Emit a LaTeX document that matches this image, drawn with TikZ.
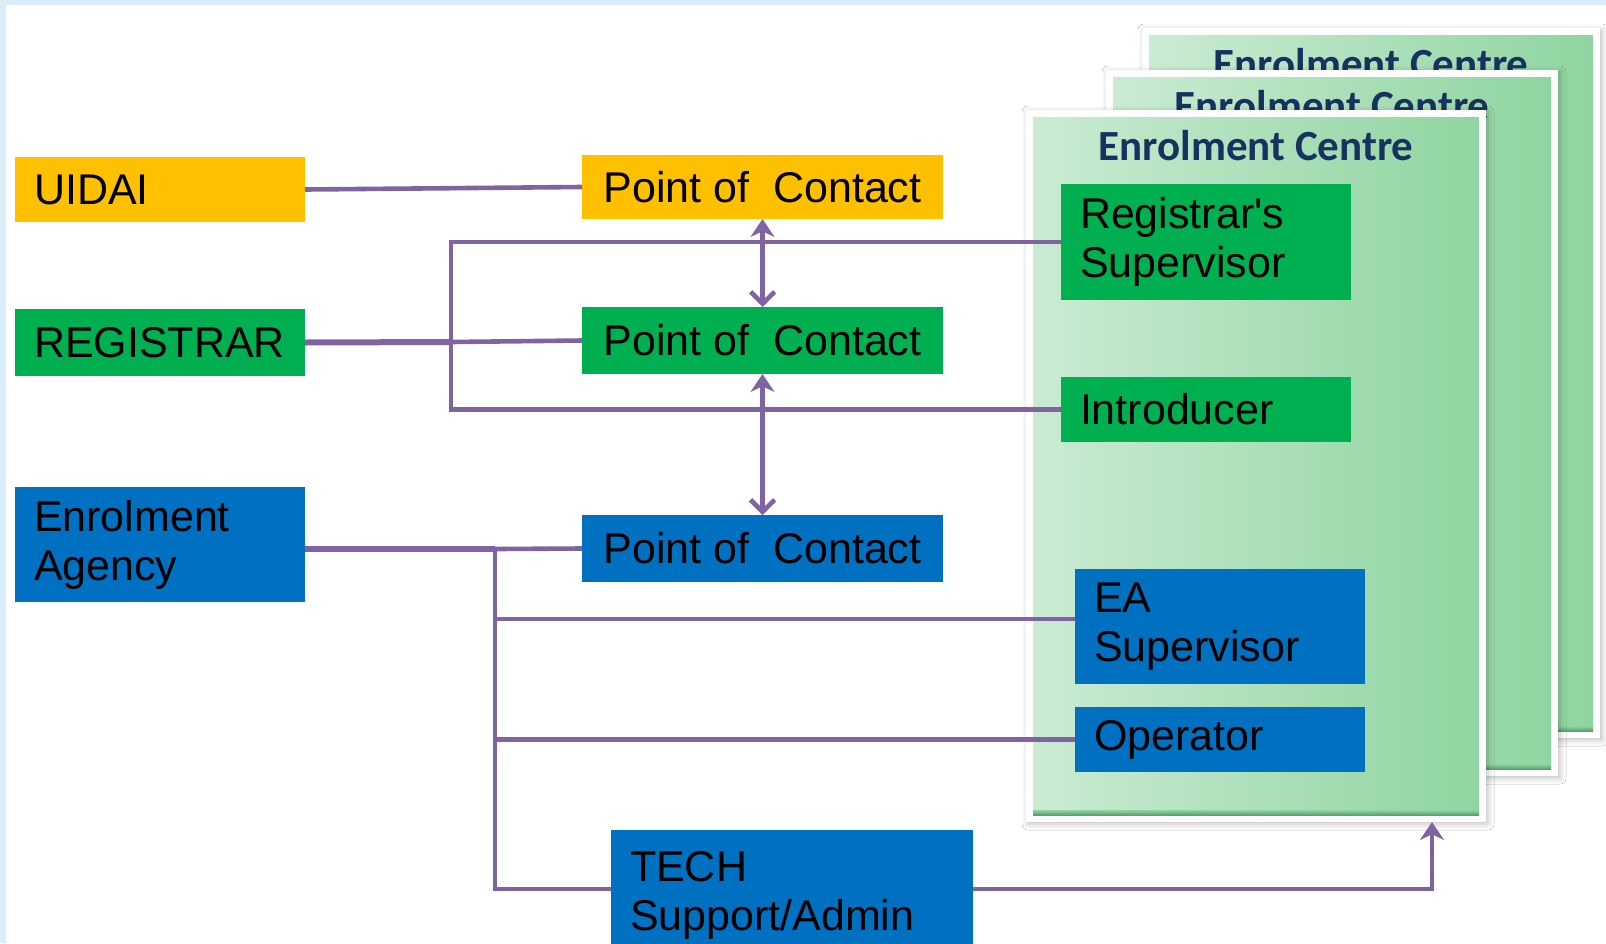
\documentclass[tikz,border=0pt]{standalone}
\usepackage{fontspec}
\setmainfont{Liberation Sans}
\newfontfamily\titlefont{Carlito}
\usetikzlibrary{arrows.meta,shadows.blur}
\definecolor{cyellow}{HTML}{FFC000}
\definecolor{cgreen}{HTML}{00B050}
\definecolor{cblue}{HTML}{0070C0}
\definecolor{cline}{HTML}{8064A2}
\definecolor{cnavy}{HTML}{17325E}
\definecolor{cframe}{HTML}{DAEEF9}
\definecolor{pleft}{HTML}{CBEBD3}
\definecolor{pright}{HTML}{8FD5A1}
\definecolor{pbottom}{HTML}{5E9E70}
\begin{document}
\begin{tikzpicture}[x=0.5pt,y=-0.5pt,
  box/.style={draw=none, inner xsep=9.5pt, inner ysep=0pt, outer sep=0pt, align=left,
    font=\fontsize{21.5}{24.5}\selectfont, text=black},
  pocbox/.style={draw=none, inner sep=0pt, outer sep=0pt, minimum width=180.5pt,
    font=\fontsize{21.5}{24.5}\selectfont, text=black},
  panelout/.style={fill=white, draw=none, inner sep=0pt, outer sep=0pt,
    blur shadow={shadow xshift=1pt, shadow yshift=-1pt, shadow blur radius=3pt, shadow opacity=25}},
  panelin/.style={left color=pleft, right color=pright, draw=none, inner sep=0pt, outer sep=0pt},
  ectitle/.style={anchor=base, text=cnavy, font=\titlefont\bfseries\fontsize{21.5}{24}\selectfont, inner sep=0pt},
  conn/.style={draw=cline, line width=2.3pt},
  thickconn/.style={draw=cline, line width=3pt},
  upstealth/.style={-{Stealth[length=9pt,width=12pt]}},
  dbl/.style={{Stealth[length=9pt,width=12pt]}-{Straight Barb[length=6pt,width=12pt]}}
]
\useasboundingbox (0,0) rectangle (1606,943);
\clip (0,0) rectangle (1606,943);
\fill[cframe] (0,0) rectangle (1606,943);
\fill[white] (6,5) rectangle (1606,943);

% panels
\node[panelout, minimum width=229pt, minimum height=355pt] (back) at (1371,383) {};
\node[panelin, minimum width=222pt, minimum height=348pt] (backin) at (1371,383) {};
\shade[top color=pright, bottom color=pbottom] ([yshift=2.5pt]backin.south west) rectangle (backin.south east);
\node[ectitle] (backtitle) at ([yshift=-25pt]back.north) {Enrolment Centre};

\node[panelout, minimum width=226pt, minimum height=353pt] (middle) at (1332,423) {};
\node[panelin, minimum width=219pt, minimum height=346pt] (middlein) at (1332,423) {};
\shade[top color=pright, bottom color=pbottom] ([yshift=2.5pt]middlein.south west) rectangle (middlein.south east);
\node[ectitle] (middletitle) at ([yshift=-25pt]middle.north) {Enrolment Centre};

\node[panelout, minimum width=230pt, minimum height=356pt] (front) at (1256,466) {};
\node[panelin, minimum width=223pt, minimum height=349pt] (frontin) at (1256,466) {};
\shade[top color=pright, bottom color=pbottom] ([yshift=2.5pt]frontin.south west) rectangle (frontin.south east);
\node[ectitle] (fronttitle) at ([yshift=-25pt]front.north) {Enrolment Centre};

% boxes
\node[box, fill=cyellow, text width=126pt, minimum height=32.5pt] (uidai) at (160,189.5) {UIDAI};
\node[box, fill=cgreen, text width=126pt, minimum height=33.5pt] (registrar) at (160,342.5) {REGISTRAR};
\node[box, fill=cblue, text width=126pt, minimum height=57.5pt] (ea) at (160,544.5) {Enrolment\\Agency};
\node[pocbox, fill=cyellow, minimum height=32pt] (poc1) at (762.5,187) {Point of~~Contact};
\node[pocbox, fill=cgreen, minimum height=33.5pt] (poc2) at (762.5,340.5) {Point of~~Contact};
\node[pocbox, fill=cblue, minimum height=33.5pt] (poc3) at (762.5,548.5) {Point of~~Contact};
\node[box, fill=cgreen, text width=126pt, minimum height=58pt] (regsup) at (1206,242) {Registrar\textquotesingle s\\Supervisor};
\node[box, fill=cgreen, text width=126pt, minimum height=32.5pt] (intro) at (1206,409.5) {Introducer};
\node[box, fill=cblue, text width=126pt, minimum height=57.5pt] (easup) at (1220,626.5) {EA\\Supervisor};
\node[box, fill=cblue, text width=126pt, minimum height=32.5pt] (oper) at (1220,739.5) {Operator};
\node[box, fill=cblue, text width=162pt, minimum height=65pt] (tech) at (792,895) {TECH\\Support/Admin};

% connectors
\draw[conn] (uidai.east) -- (poc1.west);
\coordinate (rj) at (451,342);
\draw[thickconn] (registrar.east) -- (rj);
\draw[conn] (rj) -- (poc2.west);
\draw[conn] (regsup.west) -- ++(-610,0) |- (intro.west);
\draw[conn, dbl] (poc1.south) -- (poc2.north);
\draw[conn, dbl] (poc2.south) -- (poc3.north);
\coordinate (eaj) at (495,549);
\draw[thickconn] (ea.east |- eaj) -- (eaj);
\draw[conn] (eaj) -- (poc3.west);
\draw[conn] (eaj) |- ([yshift=3pt]tech.west);
\draw[conn] ([yshift=3.75pt]easup.west) -- ++(-580,0);
\draw[conn] (oper.west) -- ++(-580,0);
\draw[conn, upstealth] ([yshift=3pt]tech.east) -| ([xshift=88pt]front.south);
\end{tikzpicture}
\end{document}
